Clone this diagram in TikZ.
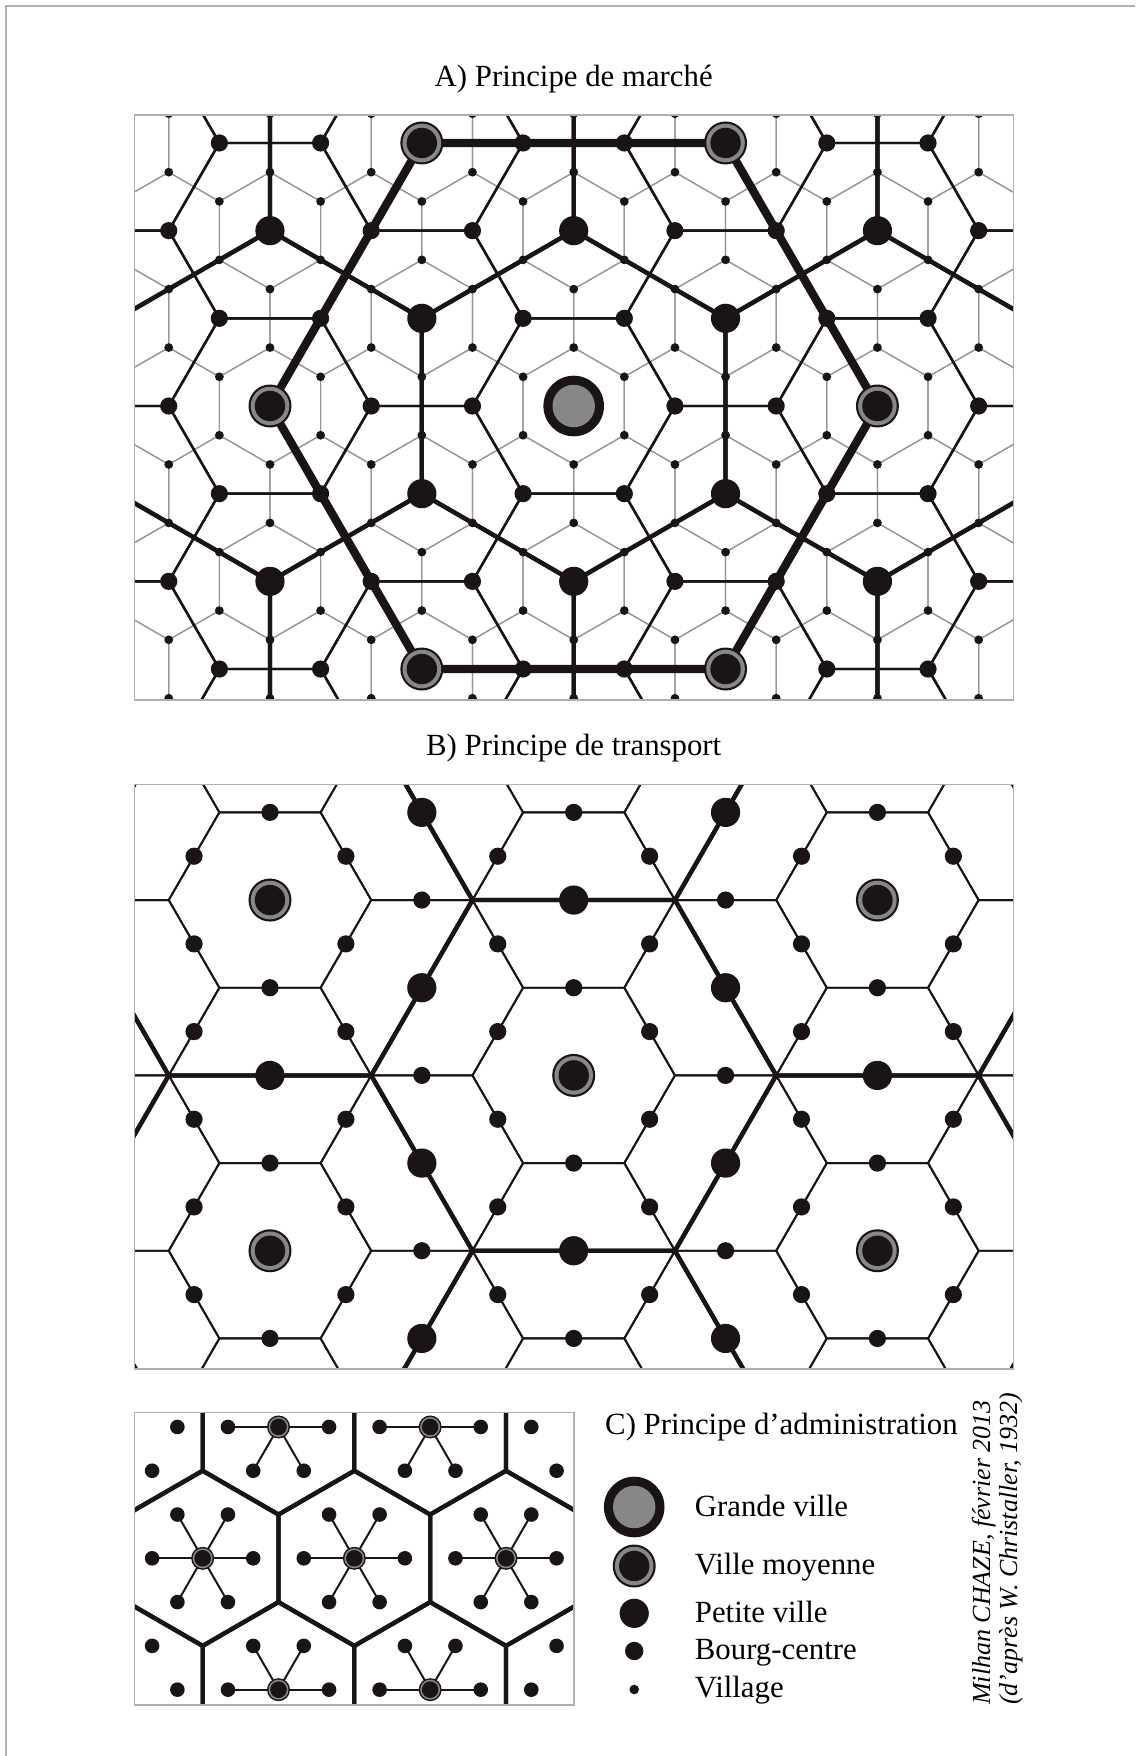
\documentclass[tikz,border=0pt]{standalone}
\usepackage{fontspec}
\setmainfont{Liberation Serif}
\definecolor{ink}{RGB}{26,20,20}
\definecolor{ringgray}{RGB}{135,135,135}
\definecolor{hexgray}{RGB}{150,150,150}
\definecolor{boxgray}{RGB}{175,175,175}
\newcommand\hexflat[3]{\draw[#1] (#2) +(0:#3) -- +(60:#3) -- +(120:#3) -- +(180:#3) -- +(240:#3) -- +(300:#3) -- cycle;}
\newcommand\hexpoint[3]{\draw[#1] (#2) +(30:#3) -- +(90:#3) -- +(150:#3) -- +(210:#3) -- +(270:#3) -- +(330:#3) -- cycle;}
\tikzset{
  grayline/.style={draw=hexgray, line width=1.2pt},
  medline/.style={draw=ink, line width=2.4pt, line join=round},
  thickline/.style={draw=ink, line width=4.3pt, line join=round},
  heavyline/.style={draw=ink, line width=8.3pt, line join=round},
  thinB/.style={draw=ink, line width=1.9pt, line join=round},
  spoke/.style={draw=ink, line width=2pt},
  boxline/.style={draw=boxgray, line width=1.5pt},
  framestyle/.style={draw=boxgray, line width=1.5pt},
  titletext/.style={inner sep=0pt, font=\fontsize{30.8}{37}\selectfont},
  legtext/.style={inner sep=0pt, anchor=base west, font=\fontsize{30.8}{37}\selectfont},
  credtext/.style={inner sep=0pt, rotate=90, anchor=base west, font=\itshape\fontsize{26}{31}\selectfont},
  pics/village/.style={code={\fill[ink] (0,0) circle (4.4);}},
  pics/bourg/.style={code={\fill[ink] (0,0) circle (8.6);}},
  pics/petite/.style={code={\fill[ink] (0,0) circle (14.6);}},
  pics/moyenne/.style={code={\fill[ink] (0,0) circle (21.5); \fill[ringgray] (0,0) circle (19.3); \fill[ink] (0,0) circle (15.2);}},
  pics/grande/.style={code={\fill[ink] (0,0) circle (30.3); \fill[ringgray] (0,0) circle (21.2);}},
  pics/satdot/.style={code={\fill[ink] (0,0) circle (7.3);}},
  pics/admincenter/.style={code={\fill[ink] (0,0) circle (11.5); \fill[ringgray] (0,0) circle (10); \fill[ink] (0,0) circle (8.3);}},
  pics/legbourg/.style={code={\fill[ink] (0,0) circle (9.2);}},
  pics/legvillage/.style={code={\fill[ink] (0,0) circle (4.8);}},
}
\begin{document}
\begin{tikzpicture}[x=1pt,y=-1pt]
\useasboundingbox (0,0) rectangle (1135,1756);
\draw[framestyle] (6,1756) -- (6,6) -- (1135,6);

% ---------- titles ----------
\node[titletext, anchor=base] (tA) at (573.7,86) {A) Principe de marché};
\node[titletext, anchor=base] (tB) at (573.7,755) {B) Principe de transport};

% ---------- Panel A : market principle ----------
\begin{scope}
\clip (134.3,115) rectangle (1013.3,700);
% village hexagons (around bourg-centres)
\foreach \i in {-8,...,8}{\foreach \j in {-4,...,4}{
  \hexpoint{grayline}{{573.7+101.24*\i+50.62*\j},{406+87.675*\j}}{58.45}}}
% bourg hexagons (around petites villes)
\foreach \i in {-4,...,4}{\foreach \j in {-5,...,5}{
  \hexflat{medline}{{573.7+151.86*\i},{406+87.675*\i+175.35*\j}}{101.24}}}
% petite ville hexagons (around villes moyennes)
\foreach \i in {-3,...,3}{\foreach \j in {-1,0,1}{
  \hexpoint{thickline}{{573.7+303.72*\i+151.86*\j},{406+263.03*\j}}{175.35}}}
% ville moyenne hexagon (around the grande ville)
\hexflat{heavyline}{573.7,406}{303.72}
% dots
\foreach \m in {-9,...,9}{\foreach \n in {-10,...,10}{
  \pic at ({573.7+50.62*\m},{406+29.225*\m+58.45*\n}) {village};}}
\foreach \i in {-8,...,8}{\foreach \j in {-4,...,4}{
  \pic at ({573.7+101.24*\i+50.62*\j},{406+87.675*\j}) {bourg};}}
\foreach \i in {-4,...,4}{\foreach \j in {-5,...,5}{
  \pic at ({573.7+151.86*\i},{406+87.675*\i+175.35*\j}) {petite};}}
\foreach \p in {{421.84,142.97},{725.56,142.97},{270.0,406},{877.42,406},{421.84,669.03},{725.56,669.03}}{
  \pic at (\p) {moyenne};}
\pic at (573.7,406) {grande};
\end{scope}
\draw[boxline] (134.3,115) rectangle (1013.3,700);

% ---------- Panel B : transport principle ----------
\begin{scope}
\clip (134.3,784.3) rectangle (1013.3,1369.2);
\foreach \i in {-4,...,4}{\foreach \j in {-5,...,5}{
  \hexflat{thinB}{{573.7+151.86*\i},{1075.4+87.675*\i+175.35*\j}}{101.24}}}
\foreach \i in {-2,...,2}{\foreach \j in {-3,...,3}{
  \hexflat{thickline}{{573.7+303.72*\i},{1075.4+175.35*\i+350.7*\j}}{202.48}}}
\foreach \i in {-6,...,6}{\foreach \j in {-7,...,7}{
  \pic at ({573.7+75.93*\i},{1075.4+43.8375*\i+87.675*\j}) {bourg};}}
\foreach \i in {-4,...,4}{\foreach \j in {-5,...,5}{
  \pic at ({573.7+151.86*\i},{1075.4+87.675*\i+175.35*\j}) {petite};}}
\foreach \i in {-2,...,2}{\foreach \j in {-3,...,3}{
  \pic at ({573.7+303.72*\i},{1075.4+175.35*\i+350.7*\j}) {moyenne};}}
\end{scope}
\draw[boxline] (134.3,784.3) rectangle (1013.3,1369.2);

% ---------- Panel C : administration principle ----------
\begin{scope}
\clip (134.3,1412.7) rectangle (574,1705);
\foreach \j in {-1,0,1}{\foreach \i in {-2,...,3}{
  \hexpoint{thickline}{{202.67+151.67*\i+75.835*\j},{1558.3+131.35*\j}}{87.57}}}
% spokes of the middle row
\foreach \cx in {202.67,354.34,506.01}{\foreach \a in {0,60,...,300}{
  \draw[spoke] (\cx,1558.3) -- ++(\a:50.56);}}
% spokes of the top row
\foreach \cx in {278.5,430.17}{\foreach \a in {0,60,120,180}{
  \draw[spoke] (\cx,1426.95) -- ++(\a:50.56);}}
% spokes of the bottom row
\foreach \cx in {278.5,430.17}{\foreach \a in {0,180,240,300}{
  \draw[spoke] (\cx,1689.65) -- ++(\a:50.56);}}
% satellites
\foreach \j in {-1,0,1}{\foreach \i in {-2,...,3}{\foreach \a in {0,60,...,300}{
  \pic at ({202.67+151.67*\i+75.835*\j+50.56*cos(\a)},{1558.3+131.35*\j+50.56*sin(\a)}) {satdot};}}}
% centres
\foreach \cx in {202.67,354.34,506.01}{\pic at (\cx,1558.3) {admincenter};}
\foreach \cx in {278.5,430.17}{\pic at (\cx,1426.95) {admincenter}; \pic at (\cx,1689.65) {admincenter};}
\end{scope}
\draw[boxline] (134.3,1412.7) rectangle (574,1705);

% ---------- legend ----------
\node[legtext] (tC) at (605,1434) {C) Principe d’administration};
\pic at (634.2,1507) {grande};
\pic at (634.2,1566) {moyenne};
\pic at (634.2,1613.3) {petite};
\pic at (634.2,1651) {legbourg};
\pic at (634.2,1689.5) {legvillage};
\node[legtext] (lg) at (694.7,1516.5) {Grande ville};
\node[legtext] (lm) at (694.7,1574) {Ville moyenne};
\node[legtext] (lp) at (694.7,1622) {Petite ville};
\node[legtext] (lb) at (694.7,1659) {Bourg-centre};
\node[legtext] (lv) at (694.7,1697) {Village};

% ---------- credits ----------
\node[credtext] (cr1) at (990,1705) {Milhan CHAZE, février 2013};
\node[credtext] (cr2) at (1017,1705) {(d’après W. Christaller, 1932)};
\end{tikzpicture}
\end{document}
